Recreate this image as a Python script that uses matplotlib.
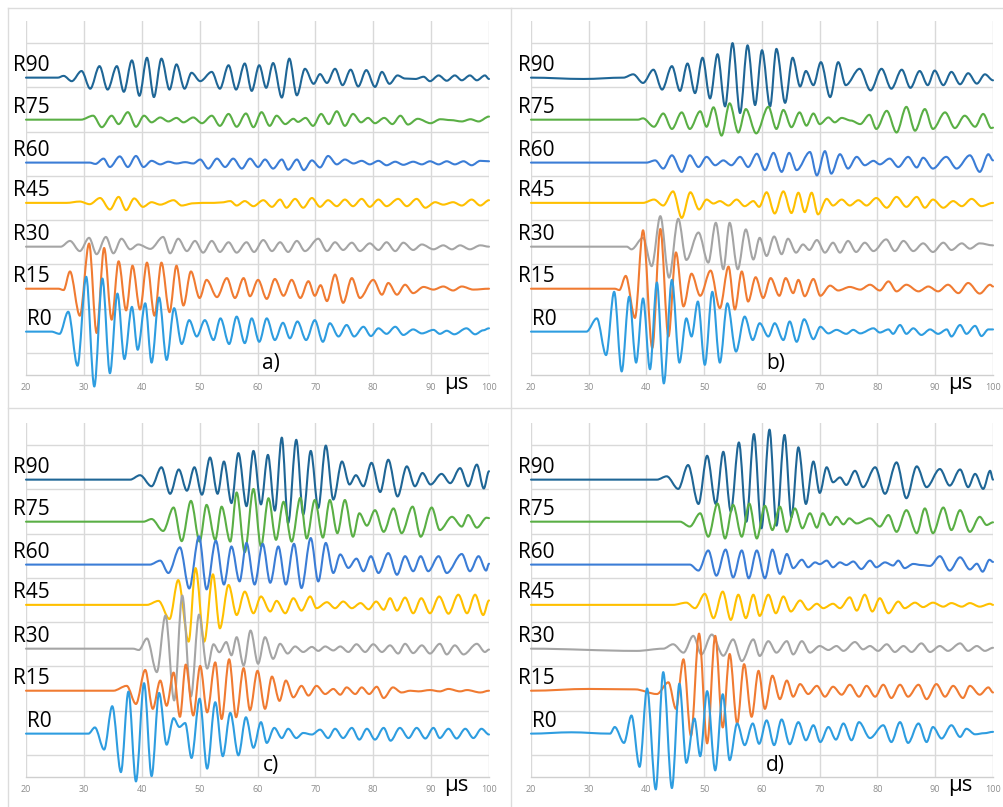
import matplotlib.pyplot as plt
from matplotlib.path import Path
from matplotlib.patches import PathPatch
from matplotlib.lines import Line2D

plt.rcParams['font.family'] = ['Open Sans', 'DejaVu Sans']

#==============================================================================
# traces, bottom to top
labels  = ['R0', 'R15', 'R30', 'R45', 'R60', 'R75', 'R90']
offsets = [4.8, 14.5, 24.0, 33.9, 43.0, 52.7, 62.2]
colors  = ['#2e9de0', '#f07b32', '#a5a5a5', '#ffc000', '#3b7dd6', '#5aaf45', '#1f6696']
xticks  = [20, 30, 40, 50, 60, 70, 80, 90, 100]
panel_names = ['a)', 'b)', 'c)', 'd)']

# extrema of each signal: (time in us, amplitude)
a_r0 = [(20,0),(24.4,0),(25.8,-0.5),(27.3,4.5),(28.9,-7.7),(30.4,12.4),(31.8,-12.4),(33.2,12.0),(34.5,-9.4),(35.8,8.6),(37.0,-6.2),(38.3,5.6),(39.3,-4.1),(40.6,6.4),(41.7,-7.0),(43.0,7.7),(44.3,-6.4),(45.6,5.3),(46.9,-2.8),(48.2,2.6),(49.5,-1.1),(50.9,2.6),(52.4,-1.9),(53.6,3.0),(55.1,-2.8),(56.4,3.4),(57.8,-2.6),(59.0,3.0),(60.3,-2.3),(61.6,3.0),(63.0,-1.9),(64.4,2.0),(65.6,-1.5),(66.9,2.3),(68.4,-1.9),(69.9,2.6),(71.3,-2.3),(72.5,1.9),(74.0,-1.1),(75.4,1.5),(76.7,-1.1),(78.3,1.1),(79.6,-1.0),(80.9,0.75),(82.3,-0.5),(83.8,1.1),(85.2,-0.75),(86.9,0.5),(88.4,-0.4),(90.4,0.4),(91.5,-0.5),(92.7,0.2),(94.0,-0.6),(96.1,0.75),(97.6,-0.6),(99.0,0.3),(100,0.75)]
a_r15 = [(20,0),(25.6,0),(26.5,-0.3),(27.6,3.9),(29.3,-6.1),(30.9,10.2),(32.2,-10.0),(33.5,9.2),(34.8,-7.0),(36.0,6.2),(37.3,-4.9),(38.4,5.2),(39.7,-4.7),(40.9,5.9),(42.2,-6.1),(43.4,5.9),(44.8,-5.3),(46.0,5.2),(47.2,-3.8),(48.5,3.9),(50.0,-2.1),(51.2,2.0),(53.0,-1.9),(54.7,2.4),(56.1,-2.1),(57.6,2.4),(58.7,-1.7),(60.1,2.0),(61.6,-2.3),(63.0,2.2),(64.5,-1.6),(65.9,2.0),(67.4,-2.1),(68.8,1.7),(69.9,-1.6),(70.9,0.8),(72.0,-2.8),(73.4,3.2),(74.8,-3.2),(76.3,2.4),(77.7,-2.1),(80.0,2.0),(81.5,-1.35),(82.6,1.3),(84.1,-1.35),(85.5,0.9),(86.9,-1.0),(88.7,0.4),(90.4,-0.2),(92.1,0.5),(93.8,-0.4),(95.3,0.5),(97.3,-0.2),(100,0.0)]
a_r30 = [(20,0),(26.0,0),(27.6,1.3),(29.3,-1.0),(30.9,2.0),(32.2,-1.7),(33.8,2.2),(35.1,-1.5),(36.5,1.8),(38.0,-0.6),(39.4,0.5),(41.5,-0.5),(43.7,2.2),(44.9,-1.5),(46.3,1.8),(47.8,-1.0),(49.2,1.3),(50.6,-1.35),(52.1,1.3),(53.5,-1.2),(55.0,1.0),(56.4,-1.35),(58.1,1.0),(59.4,-1.2),(61.0,1.5),(62.5,-1.0),(63.9,1.0),(65.3,-1.2),(66.8,1.3),(68.2,-1.0),(70.5,1.8),(72.0,-1.0),(73.4,1.0),(74.8,-0.75),(76.3,0.9),(77.7,-1.0),(79.4,0.75),(80.9,-0.75),(82.3,1.0),(83.8,-1.0),(85.2,0.9),(86.9,-0.75),(88.4,0.5),(90.4,-0.6),(92.1,0.3),(93.6,-0.6),(95.0,0.3),(96.7,-0.6),(98.5,0.3),(100,0.0)]
a_r45 = [(20,0),(27.0,0),(29.3,0.3),(31.0,-0.3),(32.8,1.1),(34.5,-1.5),(36.0,1.35),(37.3,-1.65),(38.7,1.0),(40.2,-0.9),(41.7,0.15),(43.2,-0.4),(45.5,0.6),(46.9,-0.6),(48.9,-0.1),(50.5,0.0),(52.5,0.0),(53.8,0.1),(55.3,0.4),(56.4,-0.6),(57.8,0.4),(59.3,-0.75),(61.0,0.6),(62.5,-0.9),(63.9,0.75),(65.0,-1.1),(66.5,0.9),(67.9,-1.1),(69.4,1.1),(70.8,-0.9),(72.2,0.6),(73.7,-0.75),(75.1,0.75),(76.5,-0.75),(78.0,0.9),(79.4,-0.9),(80.9,0.75),(82.3,-0.75),(84.3,0.9),(85.8,-0.75),(87.5,0.9),(89.0,-1.1),(90.7,0.15),(92.1,-0.4),(93.8,0.15),(95.3,-0.6),(97.0,0.75),(98.5,-0.6),(100,0.6)]
a_r60 = [(20,0),(31.0,0),(32.0,-0.3),(33.4,0.9),(34.5,-1.0),(36.2,1.4),(37.6,-1.0),(39.0,1.5),(40.3,-1.0),(41.7,0.4),(43.2,-0.4),(44.6,0.2),(46.0,-0.2),(47.5,0.1),(48.9,-0.2),(50.1,0.7),(51.5,-1.35),(53.0,0.9),(54.4,-1.0),(55.8,0.9),(57.3,-1.35),(58.7,0.9),(60.1,-1.0),(61.3,0.7),(62.7,-1.35),(64.2,0.7),(65.3,-1.6),(66.8,0.7),(68.0,-1.7),(69.4,0.5),(70.8,-1.1),(72.2,1.5),(73.7,-0.4),(75.1,0.7),(76.6,-0.2),(78.0,0.4),(79.4,-0.4),(80.9,0.4),(82.3,-0.6),(83.8,0.2),(85.2,-0.5),(86.9,0.2),(88.4,-0.4),(89.8,0.3),(91.3,-0.4),(92.7,0.3),(94.1,-0.4),(95.6,0.3),(97.0,-0.6),(98.5,0.4),(100,0.3)]
a_r75 = [(20,0),(29.5,0),(31.6,0.9),(33.1,-1.7),(34.8,0.9),(36.0,-1.0),(37.6,1.7),(39.0,-1.6),(40.4,0.9),(41.7,-0.6),(43.2,0.5),(44.6,-0.4),(46.0,0.4),(47.2,-0.6),(48.9,0.5),(50.4,-0.8),(52.1,0.9),(53.5,-1.4),(55.0,1.3),(56.4,-1.6),(58.0,1.4),(59.3,-1.7),(60.7,1.7),(62.1,-1.4),(63.3,0.9),(64.8,-1.0),(66.2,0.2),(67.0,-0.5),(68.3,0.4),(69.6,-1.4),(71.0,1.3),(72.3,-1.0),(73.7,1.9),(75.1,-1.4),(76.5,1.3),(77.9,-0.6),(79.1,0.4),(80.3,-0.8),(81.9,0.4),(83.3,-1.0),(84.7,0.9),(86.0,-1.1),(87.7,0.2),(89.9,-0.8),(91.6,0.1),(93.4,-0.1),(95.3,-0.4),(96.8,0.1),(98.2,-0.4),(100,0.7)]
a_r90 = [(20,0),(25.5,0),(26.5,0.4),(27.9,-0.8),(29.6,1.5),(31.1,-2.5),(32.7,2.6),(34.1,-2.7),(35.7,2.6),(36.9,-3.2),(38.3,3.9),(39.6,-4.1),(40.9,4.5),(42.1,-4.4),(43.4,4.3),(44.8,-2.7),(46.0,3.0),(47.4,-2.5),(48.6,1.1),(50.1,-0.8),(52.1,1.3),(53.5,-2.5),(55.0,2.8),(56.3,-2.7),(57.8,3.2),(59.0,-3.0),(60.3,2.8),(61.5,-2.3),(62.7,3.3),(64.2,-4.5),(65.5,4.3),(66.8,-4.0),(68.2,2.0),(69.7,-1.4),(70.8,0.8),(72.0,-1.2),(73.4,2.0),(74.7,-1.7),(76.1,1.8),(77.4,-2.0),(78.8,1.7),(80.3,-2.1),(81.5,1.3),(82.8,-1.4),(84.2,0.5),(85.5,-0.2),(87.3,-0.3),(88.7,0.2),(89.8,-0.8),(91.3,0.5),(92.7,-0.7),(94.1,0.5),(95.3,-0.6),(96.7,0.5),(97.9,-0.6),(99.3,0.5),(100,-0.3)]

b_r0 = [(20,0),(29.6,0),(31.4,3.0),(33.0,-5.3),(34.4,9.0),(35.7,-9.0),(37.0,7.9),(38.2,-7.0),(39.4,7.5),(40.6,-8.5),(41.8,11.1),(43.0,-11.7),(44.4,11.7),(45.7,-7.0),(46.9,3.0),(47.8,-1.1),(48.9,6.8),(50.1,-7.5),(51.4,9.0),(52.7,-7.0),(54.0,6.4),(55.5,-4.5),(57.0,3.4),(58.4,-1.9),(59.6,1.9),(61.1,-1.1),(62.2,1.9),(63.7,-1.9),(64.8,2.3),(66.0,-2.3),(67.3,2.8),(68.9,-1.7),(70.1,1.1),(71.5,-0.4),(72.9,0.4),(74.6,-0.5),(75.8,0.4),(77.0,-0.4),(79.3,0.75),(80.4,-0.2),(81.9,0.5),(82.7,-0.5),(83.9,1.5),(85.0,-0.5),(86.2,0.75),(87.6,-0.75),(89.1,0.5),(90.5,-0.5),(92.0,0.5),(92.8,-1.1),(94.3,1.5),(95.4,-0.5),(96.9,1.3),(98.0,-1.0),(99.2,0.5),(100,0.5)]
b_r15 = [(20,0),(34.5,0),(35.3,-0.3),(36.4,2.9),(38.0,-6.6),(39.4,13.2),(41.0,-13.4),(42.4,13.5),(43.8,-10.8),(45.1,8.2),(46.4,-4.0),(47.8,3.4),(49.3,-1.6),(51.1,4.1),(52.7,-4.4),(54.2,5.0),(55.3,-4.7),(56.5,3.9),(57.6,-2.9),(58.9,2.6),(60.2,-2.1),(61.5,2.4),(63.0,-1.6),(64.1,2.4),(65.4,-1.0),(66.3,2.0),(67.4,-1.7),(68.9,2.2),(70.1,-1.6),(71.8,0.7),(73.2,-0.4),(75.2,0.4),(77.0,-0.2),(78.7,0.9),(80.4,-0.4),(81.9,1.65),(83.3,-0.6),(85.0,0.9),(87.1,-0.6),(88.8,0.5),(90.5,-0.6),(92.2,0.9),(94.0,-1.0),(95.7,1.3),(97.7,-1.1),(99.5,0.9),(100,0.5)]
b_r30 = [(20,0),(36.6,0),(37.4,-0.6),(39.4,2.0),(40.9,-4.4),(42.4,6.9),(43.9,-7.0),(45.5,6.3),(46.9,-3.0),(49.0,3.2),(50.7,-3.6),(52.0,5.4),(53.3,-5.1),(54.4,5.4),(55.8,-5.1),(57.2,3.9),(58.5,-2.9),(59.6,2.0),(60.8,-2.1),(62.1,2.3),(63.4,-1.7),(64.5,1.8),(65.9,-1.35),(67.1,0.5),(68.2,-0.75),(69.5,1.5),(70.9,-1.35),(72.3,0.9),(73.5,-1.35),(74.9,1.3),(76.3,-1.2),(77.8,0.9),(79.3,-1.0),(81.5,1.65),(83.0,-1.0),(84.5,1.3),(86.2,-1.0),(87.9,0.75),(89.6,-1.2),(91.4,0.9),(92.8,-0.75),(94.6,0.75),(96.0,-0.45),(97.7,0.75),(100,0.3)]
b_r45 = [(20,0),(39.4,0),(41.3,0.75),(42.9,-0.6),(44.6,2.6),(46.1,-3.4),(47.6,2.4),(49.1,-1.5),(50.4,0.75),(51.6,-0.15),(52.7,0.4),(54.2,-0.6),(55.6,0.75),(57.0,-0.75),(58.5,0.4),(59.5,-0.9),(60.8,2.4),(62.2,-2.4),(63.7,2.6),(65.1,-2.3),(66.3,2.3),(67.4,-2.1),(68.6,2.3),(69.7,-2.6),(71.2,0.9),(72.3,-0.6),(73.8,0.75),(75.2,-0.6),(76.7,0.6),(78.1,-0.6),(79.8,1.1),(81.6,-1.1),(83.3,1.35),(85.0,-0.9),(86.8,1.35),(88.2,-1.1),(89.6,0.75),(91.4,-1.1),(93.1,0.4),(94.6,-0.75),(96.3,0.9),(98.0,-0.75),(100,0.0)]
b_r60 = [(20,0),(40.0,0),(41.5,0.5),(42.9,-1.35),(44.4,1.65),(46.1,-2.1),(47.5,1.65),(49.0,-1.0),(50.4,1.3),(51.9,-0.6),(53.3,0.5),(54.7,-0.6),(56.2,1.3),(57.6,-1.0),(59.1,2.0),(60.5,-1.7),(62.0,2.2),(63.4,-2.1),(64.7,2.2),(66.0,-1.7),(68.3,2.4),(69.5,-2.9),(70.9,2.6),(72.0,-2.5),(73.5,1.9),(74.9,-1.35),(76.4,1.3),(77.8,-0.6),(79.3,0.4),(80.4,-0.4),(82.1,0.9),(83.6,-1.0),(85.3,1.3),(86.8,-1.1),(87.9,1.1),(89.6,-1.35),(91.9,1.3),(93.7,-1.35),(96.0,1.65),(97.7,-2.1),(99.2,1.9),(100,0.5)]
b_r75 = [(20,0),(38.5,0),(39.4,0.3),(41.3,-1.6),(42.9,1.4),(44.4,-2.1),(46.1,1.65),(47.5,-2.1),(49.3,1.9),(50.4,-1.6),(51.6,2.8),(53.0,-3.6),(54.4,3.7),(55.9,-2.9),(57.2,2.4),(59.0,-3.1),(61.1,2.9),(62.5,-2.1),(63.7,2.2),(65.1,-1.7),(66.5,1.65),(67.7,-1.35),(68.9,1.4),(70.0,-1.0),(71.5,0.5),(72.6,-0.6),(73.8,0.4),(75.4,-0.2),(77.0,-1.0),(78.6,1.1),(79.8,-2.1),(81.6,2.0),(83.3,-2.9),(85.0,2.9),(86.5,-2.5),(88.2,2.4),(89.6,-2.1),(91.7,1.65),(93.4,-1.9),(95.1,0.9),(96.9,-1.6),(98.3,1.3),(99.7,-1.9),(100,-1.8)]
b_r90 = [(20,0),(29.1,-0.3),(36.0,0),(37.7,0.75),(39.4,-1.2),(41.2,1.8),(42.7,-2.7),(44.4,2.6),(45.8,-3.0),(47.1,3.2),(48.4,-3.5),(49.7,4.5),(51.0,-4.7),(52.3,5.3),(53.6,-6.5),(54.9,7.8),(56.2,-8.0),(57.5,7.3),(58.8,-6.2),(60.0,6.2),(61.4,-6.5),(62.5,6.5),(64.0,-5.7),(65.3,4.5),(66.6,-2.0),(67.6,1.5),(68.9,-1.7),(70.2,3.5),(71.8,-4.4),(73.2,3.5),(74.5,-1.7),(76.9,2.0),(78.8,-2.9),(80.7,2.0),(82.4,-2.5),(84.2,1.8),(85.7,-2.3),(87.3,1.5),(88.7,-1.7),(89.9,1.6),(91.4,-1.7),(92.8,1.3),(94.3,-1.5),(95.7,1.0),(97.2,-1.35),(98.6,0.75),(100,-0.6)]

c_r0 = [(20,0),(30.8,0),(31.9,1.4),(33.5,-3.6),(34.9,6.2),(36.4,-8.7),(37.7,9.5),(39.0,-10.8),(40.4,11.4),(41.7,-9.6),(43.0,9.2),(44.3,-2.5),(45.5,3.5),(46.5,1.5),(47.5,2.4),(48.6,-5.5),(50.0,7.9),(51.3,-7.9),(52.7,7.1),(54.0,-5.1),(55.3,4.7),(56.7,-4.9),(58.0,3.7),(59.3,-3.2),(60.6,2.6),(61.6,-2.1),(62.9,1.3),(64.2,-1.0),(65.3,1.1),(66.7,-1.0),(67.9,0.15),(69.4,-0.2),(70.8,0.9),(72.2,-1.0),(73.4,1.1),(74.8,-1.0),(76.3,1.3),(77.6,-1.35),(78.9,1.1),(80.3,-1.35),(81.8,1.3),(83.0,-1.6),(84.6,1.3),(86.1,-1.0),(87.5,1.3),(89.0,-1.1),(90.4,1.3),(91.5,-1.0),(93.0,1.1),(94.4,-1.1),(95.9,1.1),(97.3,-1.0),(98.7,1.1),(100,-0.2)]
c_r15 = [(20,0),(35.1,0),(37.4,1.1),(39.0,-3.0),(40.6,4.7),(41.9,-4.1),(43.2,2.3),(44.3,-3.4),(45.5,4.1),(46.6,-5.9),(47.6,5.9),(48.9,-5.6),(50.1,5.6),(51.3,-4.9),(52.7,6.4),(53.8,-6.4),(55.1,7.1),(56.3,-6.0),(57.6,5.1),(58.7,-4.4),(60.0,4.5),(61.3,-4.1),(62.5,3.2),(63.8,-2.3),(64.9,2.3),(66.2,-1.5),(67.6,1.1),(68.8,-1.1),(70.2,1.1),(71.7,-0.75),(73.1,0.4),(74.3,-0.9),(75.4,0.75),(76.9,-0.75),(78.0,0.75),(79.3,-0.75),(80.6,0.9),(81.8,-1.65),(83.4,0.75),(84.9,-0.4),(86.4,0.0),(87.8,-0.15),(89.8,0.15),(91.5,-0.15),(93.0,0.4),(95.0,-0.15),(96.2,0.15),(98.5,-0.4),(100,0.0)]
c_r30 = [(20,0),(38.5,0),(39.5,-0.3),(40.9,2.3),(42.6,-5.3),(44.1,7.5),(45.6,-11.7),(47.0,12.0),(48.5,-10.8),(49.9,7.7),(51.3,-4.5),(52.4,1.0),(53.4,-0.8),(54.6,1.5),(55.5,-1.5),(56.4,2.6),(57.6,-3.8),(58.8,4.1),(60.1,-3.4),(61.3,2.6),(62.7,-2.3),(63.9,1.1),(65.2,-1.1),(66.5,0.5),(67.9,-0.75),(69.4,0.4),(70.5,-0.5),(71.7,0.5),(73.1,-0.4),(74.3,0.5),(75.7,-0.75),(77.1,1.0),(78.6,-0.75),(80.0,1.0),(81.5,-0.75),(82.9,0.75),(84.3,-1.1),(85.5,1.1),(86.9,-1.0),(88.4,0.75),(89.8,-1.1),(91.5,1.1),(92.7,-1.3),(94.1,0.75),(95.6,-1.3),(97.9,1.1),(99.3,-0.75),(100,-0.2)]
c_r45 = [(20,0),(40.9,0),(42.9,0.9),(44.8,-3.2),(46.3,5.6),(48.1,-8.3),(49.3,8.3),(50.8,-8.3),(52.3,6.9),(53.5,-5.3),(55.0,4.5),(56.4,-2.3),(57.8,3.0),(59.3,-1.9),(60.6,1.9),(62.2,-1.5),(63.3,0.9),(64.8,-1.9),(66.2,1.5),(67.6,-1.3),(69.1,1.9),(70.2,-0.75),(72.0,0.6),(73.4,-0.75),(74.8,0.75),(76.3,-0.75),(77.8,0.4),(79.2,-1.0),(80.5,0.75),(81.8,-1.1),(82.9,1.5),(84.1,-1.3),(85.5,1.65),(86.9,-1.9),(88.3,1.5),(89.8,-1.9),(91.4,1.9),(93.0,-2.0),(94.7,2.3),(96.2,-1.9),(97.6,2.3),(99.0,-2.3),(100,1.0)]
c_r60 = [(20,0),(41.4,0),(43.2,0.9),(44.6,-1.9),(46.6,3.9),(48.2,-5.4),(49.9,6.4),(51.2,-5.6),(52.8,5.4),(54.2,-4.5),(55.5,4.1),(56.9,-3.8),(58.1,4.9),(59.5,-4.5),(60.9,4.7),(62.2,-4.1),(63.6,4.1),(64.9,-4.5),(66.3,4.7),(67.6,-5.3),(69.2,6.0),(70.5,-3.8),(71.8,4.9),(73.1,-1.9),(74.3,2.3),(75.7,-0.75),(77.1,1.35),(78.3,-1.5),(79.6,1.9),(80.9,-1.9),(82.6,2.6),(84.1,-2.3),(85.5,1.9),(86.9,-1.5),(88.2,1.9),(89.5,-1.5),(91.3,1.9),(92.7,-1.9),(95.3,2.4),(96.7,-1.5),(98.2,1.9),(99.5,-1.35),(100,0.2)]
c_r75 = [(20,0),(40.3,0),(41.7,0.6),(43.7,-2.1),(45.5,3.2),(46.9,-4.4),(48.5,4.7),(50.0,-4.5),(51.2,3.8),(52.7,-4.1),(53.8,3.4),(55.3,-4.5),(56.4,6.6),(57.8,-6.9),(59.3,7.4),(60.6,-5.6),(61.9,5.3),(63.2,-4.1),(64.5,4.5),(65.9,-4.5),(67.4,5.4),(68.5,-3.8),(69.9,4.9),(71.3,-3.6),(72.5,4.9),(73.8,-2.6),(75.1,4.9),(76.5,-3.4),(77.6,1.9),(78.9,-0.9),(80.3,2.6),(81.8,-2.3),(83.5,3.0),(84.9,-2.6),(86.8,3.4),(88.2,-3.4),(90.1,3.2),(91.5,-1.9),(93.6,1.1),(95.3,-1.1),(96.4,1.5),(97.9,-1.35),(99.6,0.9),(100,0.8)]
c_r90 = [(20,0),(38.0,0),(39.7,1.0),(41.7,-1.5),(43.4,2.8),(44.9,-3.2),(46.4,2.3),(47.8,-2.5),(49.1,2.8),(50.4,-3.4),(51.8,5.0),(53.1,-3.2),(54.2,4.1),(55.5,-5.3),(56.7,6.0),(58.1,-6.0),(59.3,6.5),(60.6,-5.6),(61.8,5.6),(63.0,-7.0),(64.2,9.5),(65.3,-9.8),(66.7,9.0),(67.9,-7.9),(69.2,6.5),(70.5,-6.4),(71.8,7.7),(73.1,-4.5),(74.6,4.1),(75.9,-1.1),(77.0,1.0),(78.3,-1.5),(79.7,3.8),(81.2,-2.8),(82.6,4.5),(84.2,-3.8),(85.8,3.0),(87.2,-1.5),(88.5,1.5),(89.9,-1.1),(91.8,1.3),(93.3,-0.8),(95.0,2.6),(96.4,-1.5),(97.9,3.4),(99.1,-2.0),(100,1.9)]

d_r0 = [(20,0),(27.0,0.3),(33.7,0),(34.5,1.5),(36.1,-2.1),(37.4,4.1),(38.8,-7.5),(40.1,10.2),(41.6,-12.6),(42.9,13.9),(44.4,-12.3),(45.7,11.3),(46.9,-6.6),(48.3,3.4),(49.3,-5.1),(50.5,9.6),(51.9,-8.3),(53.2,8.9),(54.4,-6.0),(55.7,2.3),(57.0,-2.6),(58.4,2.3),(59.5,-2.3),(60.8,3.0),(62.1,-2.6),(63.4,3.2),(64.8,-2.4),(66.3,2.6),(67.6,-1.5),(68.9,1.9),(70.1,-1.9),(71.5,1.5),(72.8,-1.35),(74.1,2.3),(75.5,-1.5),(76.8,2.6),(78.7,-1.0),(81.0,1.9),(82.4,-1.9),(83.9,2.6),(85.3,-2.1),(87.1,2.3),(88.5,-1.9),(89.6,1.5),(91.1,-1.1),(92.8,1.9),(94.3,-0.75),(95.4,1.1),(96.9,-0.15),(98.5,0.1),(100,0.4)]
d_r15 = [(20,0),(30.0,0.4),(38.0,0.3),(41.8,-0.75),(43.8,1.9),(45.1,-4.1),(46.4,7.1),(47.7,-10.2),(49.1,12.9),(50.5,-11.9),(51.9,12.4),(53.2,-8.3),(54.4,8.3),(55.7,-7.4),(56.9,6.0),(58.2,-5.9),(59.4,4.5),(60.5,-4.1),(61.8,3.4),(63.1,-1.9),(64.3,2.3),(65.4,-1.35),(66.6,1.5),(68.0,-0.75),(69.5,1.1),(70.9,-1.35),(72.3,0.9),(73.8,-0.9),(75.2,1.35),(76.8,-1.35),(78.1,1.1),(79.6,-1.35),(81.0,1.35),(82.4,-1.65),(83.9,1.35),(85.3,-1.35),(87.1,1.35),(88.5,-1.9),(90.2,1.5),(91.7,-1.35),(93.1,1.1),(94.8,-1.65),(96.0,1.1),(97.7,-0.9),(99.2,0.75),(100,-0.4)]
d_r30 = [(20,0),(38.3,-0.5),(42.9,0),(44.6,1.0),(46.4,-0.9),(48.1,2.9),(49.5,-1.3),(51.3,3.2),(53.3,-1.6),(55.0,2.1),(56.5,-2.8),(58.5,2.1),(59.6,-1.65),(61.1,1.7),(62.5,-0.9),(64.3,1.7),(65.4,-1.3),(66.9,1.7),(68.3,-0.9),(70.0,0.6),(71.5,-0.3),(72.9,0.6),(74.1,-0.5),(76.1,1.5),(77.5,-0.15),(78.7,0.6),(80.1,-0.5),(81.6,1.0),(83.0,-0.75),(84.5,0.6),(85.9,-0.75),(87.6,1.2),(89.1,-0.75),(90.8,0.6),(92.2,-0.5),(94.3,1.2),(95.7,-0.5),(97.2,0.6),(98.6,-0.5),(100,0.2)]
d_r45 = [(20,0),(44.6,0),(46.9,0.5),(48.4,-0.75),(50.1,2.5),(51.6,-3.0),(53.2,3.0),(54.6,-3.4),(55.9,2.3),(57.2,-3.0),(58.5,2.3),(59.6,-2.5),(61.1,2.3),(62.4,-1.9),(63.7,1.9),(65.0,-1.5),(66.6,1.0),(68.0,-1.1),(69.5,0.25),(70.6,-0.75),(72.3,0.25),(73.5,-0.75),(75.2,1.7),(76.4,-1.3),(77.8,2.3),(79.1,-1.5),(80.4,1.5),(81.9,-1.9),(83.6,0.75),(84.7,-0.75),(86.5,0.5),(87.9,-0.5),(89.6,0.5),(91.4,-0.4),(92.8,0.4),(94.6,-0.4),(96.0,0.4),(97.7,-0.4),(99.5,0.25),(100,0.0)]
d_r60 = [(20,0),(47.5,0),(49.0,-1.35),(50.7,3.2),(52.1,-2.5),(53.7,3.4),(55.0,-2.9),(56.5,3.2),(57.7,-3.1),(59.1,3.2),(60.5,-3.1),(61.8,3.4),(63.1,-2.1),(64.3,2.4),(65.4,-0.8),(66.9,1.1),(68.0,-0.6),(69.2,0.5),(70.0,0.1),(71.2,0.9),(72.3,-0.6),(73.5,0.5),(74.6,-0.1),(75.8,0.7),(77.2,-1.0),(78.7,0.9),(79.8,-0.6),(81.3,0.5),(82.7,-0.2),(83.6,0.9),(84.7,-0.8),(86.2,0.15),(87.6,-0.1),(89.1,-0.3),(90.8,1.9),(92.5,-1.35),(94.3,1.65),(96.0,-1.1),(97.2,0.2),(98.2,-1.6),(99.4,1.1),(100,0.6)]
d_r75 = [(20,0),(45.8,0),(47.5,-1.1),(49.3,1.9),(50.7,-3.4),(52.3,4.1),(53.6,-3.8),(55.0,3.8),(56.5,-3.4),(57.8,4.1),(59.1,-3.8),(60.5,3.6),(61.8,-1.9),(63.1,3.4),(64.3,-2.3),(65.7,3.0),(67.0,-1.5),(68.3,1.9),(69.5,-1.35),(70.5,1.9),(71.8,-0.75),(72.9,1.1),(74.1,-0.6),(75.1,0.75),(76.4,-0.4),(78.7,0.75),(80.4,-1.1),(81.9,1.5),(83.3,-2.3),(85.0,2.6),(86.8,-2.6),(88.2,3.0),(89.6,-2.6),(91.4,3.2),(92.8,-1.9),(94.3,2.6),(96.0,-2.3),(97.7,1.1),(98.9,-0.75),(100,-0.15)]
d_r90 = [(20,0),(41.8,0),(43.5,0.75),(45.5,-2.1),(47.2,3.3),(49.0,-5.5),(50.5,5.4),(52.0,-5.5),(53.3,6.3),(54.6,-7.2),(56.0,8.4),(57.3,-9.5),(58.6,10.3),(59.9,-11.0),(61.3,11.3),(62.5,-10.4),(63.9,10.1),(65.1,-8.5),(66.3,7.3),(67.6,-5.5),(68.9,4.1),(70.0,-3.0),(71.2,2.8),(72.3,-0.6),(73.5,0.5),(74.6,-1.2),(76.1,2.0),(77.5,-1.7),(79.6,2.8),(81.3,-3.2),(83.3,3.9),(85.0,-4.2),(86.8,3.0),(88.5,-1.7),(90.8,2.4),(92.5,-1.35),(94.3,2.3),(95.7,-1.7),(96.9,1.3),(98.3,-2.1),(99.5,2.0),(100,0.0)]

#==============================================================================

def wave_path(peaks, base):
    '''smooth curve through the extrema, flat tangent at every extremum'''
    t = [p[0] for p in peaks]
    v = [base + p[1] for p in peaks]
    verts = [(t[0], v[0])]
    codes = [Path.MOVETO]
    for i in range(1, len(t)):
        d = (t[i] - t[i-1]) / 3.0
        verts += [(t[i-1] + d, v[i-1]), (t[i] - d, v[i]), (t[i], v[i])]
        codes += [Path.CURVE4] * 3
    return Path(verts, codes)


panels = [
    [a_r0, a_r15, a_r30, a_r45, a_r60, a_r75, a_r90],
    [b_r0, b_r15, b_r30, b_r45, b_r60, b_r75, b_r90],
    [c_r0, c_r15, c_r30, c_r45, c_r60, c_r75, c_r90],
    [d_r0, d_r15, d_r30, d_r45, d_r60, d_r75, d_r90],
]

W, H = 1004, 807
# axes boxes in pixels: left, top, right, bottom
boxes = [(26, 21, 489, 375), (531, 21, 993, 375),
         (26, 423, 489, 777), (531, 423, 993, 777)]

fig = plt.figure(figsize=(W/100, H/100), dpi=100)
fig.patch.set_facecolor('white')

# frame lines between the four panels
frame = '#dcdcdc'
for (x0, y0, x1, y1) in [(8, 8, W, 8), (8, 408, W, 408), (8, 8, 8, H), (511, 8, 511, H)]:
    fig.add_artist(Line2D([x0/W, x1/W], [1 - y0/H, 1 - y1/H], color=frame, lw=1.0,
                          transform=fig.transFigure))

for k, traces in enumerate(panels):
    l, t, r, b = boxes[k]
    ax = fig.add_axes([l/W, 1 - b/H, (r - l)/W, (b - t)/H])
    ax.set_xlim(20, 100)
    ax.set_ylim(-5, 75)
    ax.set_xticks(xticks)
    ax.set_yticks(range(0, 71, 10))
    ax.set_yticklabels([])
    ax.grid(True, color='#d9d9d9', lw=1.0)
    ax.set_axisbelow(True)
    for s in ['top', 'left', 'right']:
        ax.spines[s].set_visible(False)
    ax.spines['bottom'].set_color('#cfcfcf')
    ax.spines['bottom'].set_linewidth(1.0)
    ax.tick_params(length=0, labelsize=6.5, labelcolor='#8c8c8c', pad=6)
    ax.tick_params(axis='y', left=False, labelleft=False)

    # R90 is drawn first so the lower traces sit on top
    for i in range(len(labels) - 1, -1, -1):
        p = PathPatch(wave_path(traces[i], offsets[i]), fill=False,
                      edgecolor=colors[i], lw=1.5, zorder=3 + (7 - i) * 0.1,
                      clip_on=False, capstyle='round', joinstyle='round')
        ax.add_patch(p)
        lx = 20.1 if labels[i] == 'R0' else 17.7
        ax.text(lx, offsets[i] + 2.7, labels[i], fontsize=15, ha='left', va='center',
                color='black', clip_on=False)

    ax.text(62.3, -2.4, panel_names[k], fontsize=15, ha='center', va='center')
    ax.text(94.4, -7.0, 'μs', fontsize=16, ha='center', va='center', clip_on=False)

fig.savefig('out.png', dpi=100)
